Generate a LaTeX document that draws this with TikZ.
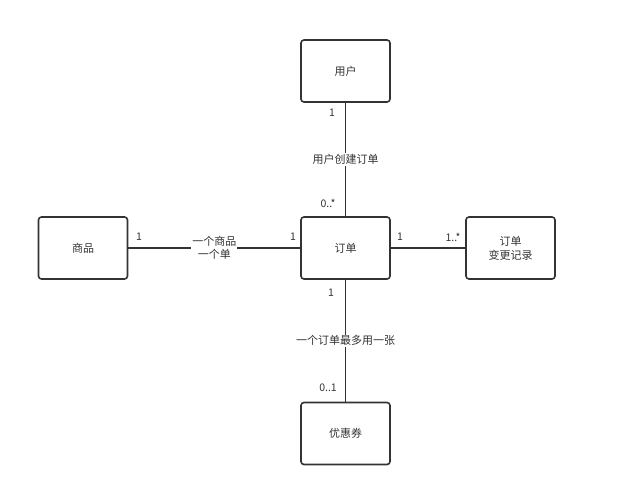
\documentclass[tikz,border=0pt]{standalone}
\usepackage{fontspec}
\setmainfont{Noto Sans CJK SC}
\usetikzlibrary{positioning}
\definecolor{linegray}{HTML}{333333}
\definecolor{textgray}{HTML}{333333}
\tikzset{
	entity/.style={
		draw=linegray,
		line width=1.6pt,
		rectangle,
		rounded corners=3pt,
		minimum width=89pt,
		minimum height=62pt,
		align=center,
		font=\fontsize{11}{14}\selectfont,
		text=textgray,
	},
	assoc/.style={
		draw=linegray,
		line width=1.8pt,
		-,
	},
	mult/.style={
		font=\fontsize{10.5}{12}\selectfont,
		text=textgray,
		inner sep=1pt,
	},
	rolelabel/.style={
		fill=white,
		align=center,
		font=\fontsize{11}{12.5}\selectfont,
		text=textgray,
		inner sep=1pt,
	},
}

\begin{document}
\begin{tikzpicture}[x=1pt, y=-1pt]
	\useasboundingbox (0,0) rectangle (626,496);

	\node[entity] (order) at (345.5,248) {订单};
	\node[entity] (user) at (345.5,71) {用户};
	\node[entity] (goods) at (83,248) {商品};
	\node[entity] (history) at (510.5,248) {订单\\变更记录};
	\node[entity] (coupon) at (345.5,433.5) {优惠券};

	\draw[assoc] (user) -- (order)
		node[rolelabel, pos=0.5] (userlbl) {用户创建订单};
	\draw[assoc] (goods) -- (order)
		node[rolelabel, pos=0.5] (goodslbl) {一个商品\\一个单};
	\draw[assoc] (order) -- (history);
	\draw[assoc] (order) -- (coupon)
		node[rolelabel, pos=0.5] (couponlbl) {一个订单最多用一张};

	% multiplicities
	\node[mult] (m1) at (332,113) {1};
	\node[mult] (m2) at (328,203) {0..*};
	\node[mult] (m3) at (139,237) {1};
	\node[mult] (m4) at (293,237) {1};
	\node[mult] (m5) at (400,237) {1};
	\node[mult] (m6) at (453,237) {1..*};
	\node[mult] (m7) at (331,293) {1};
	\node[mult] (m8) at (328,388) {0..1};

\end{tikzpicture}
\end{document}
